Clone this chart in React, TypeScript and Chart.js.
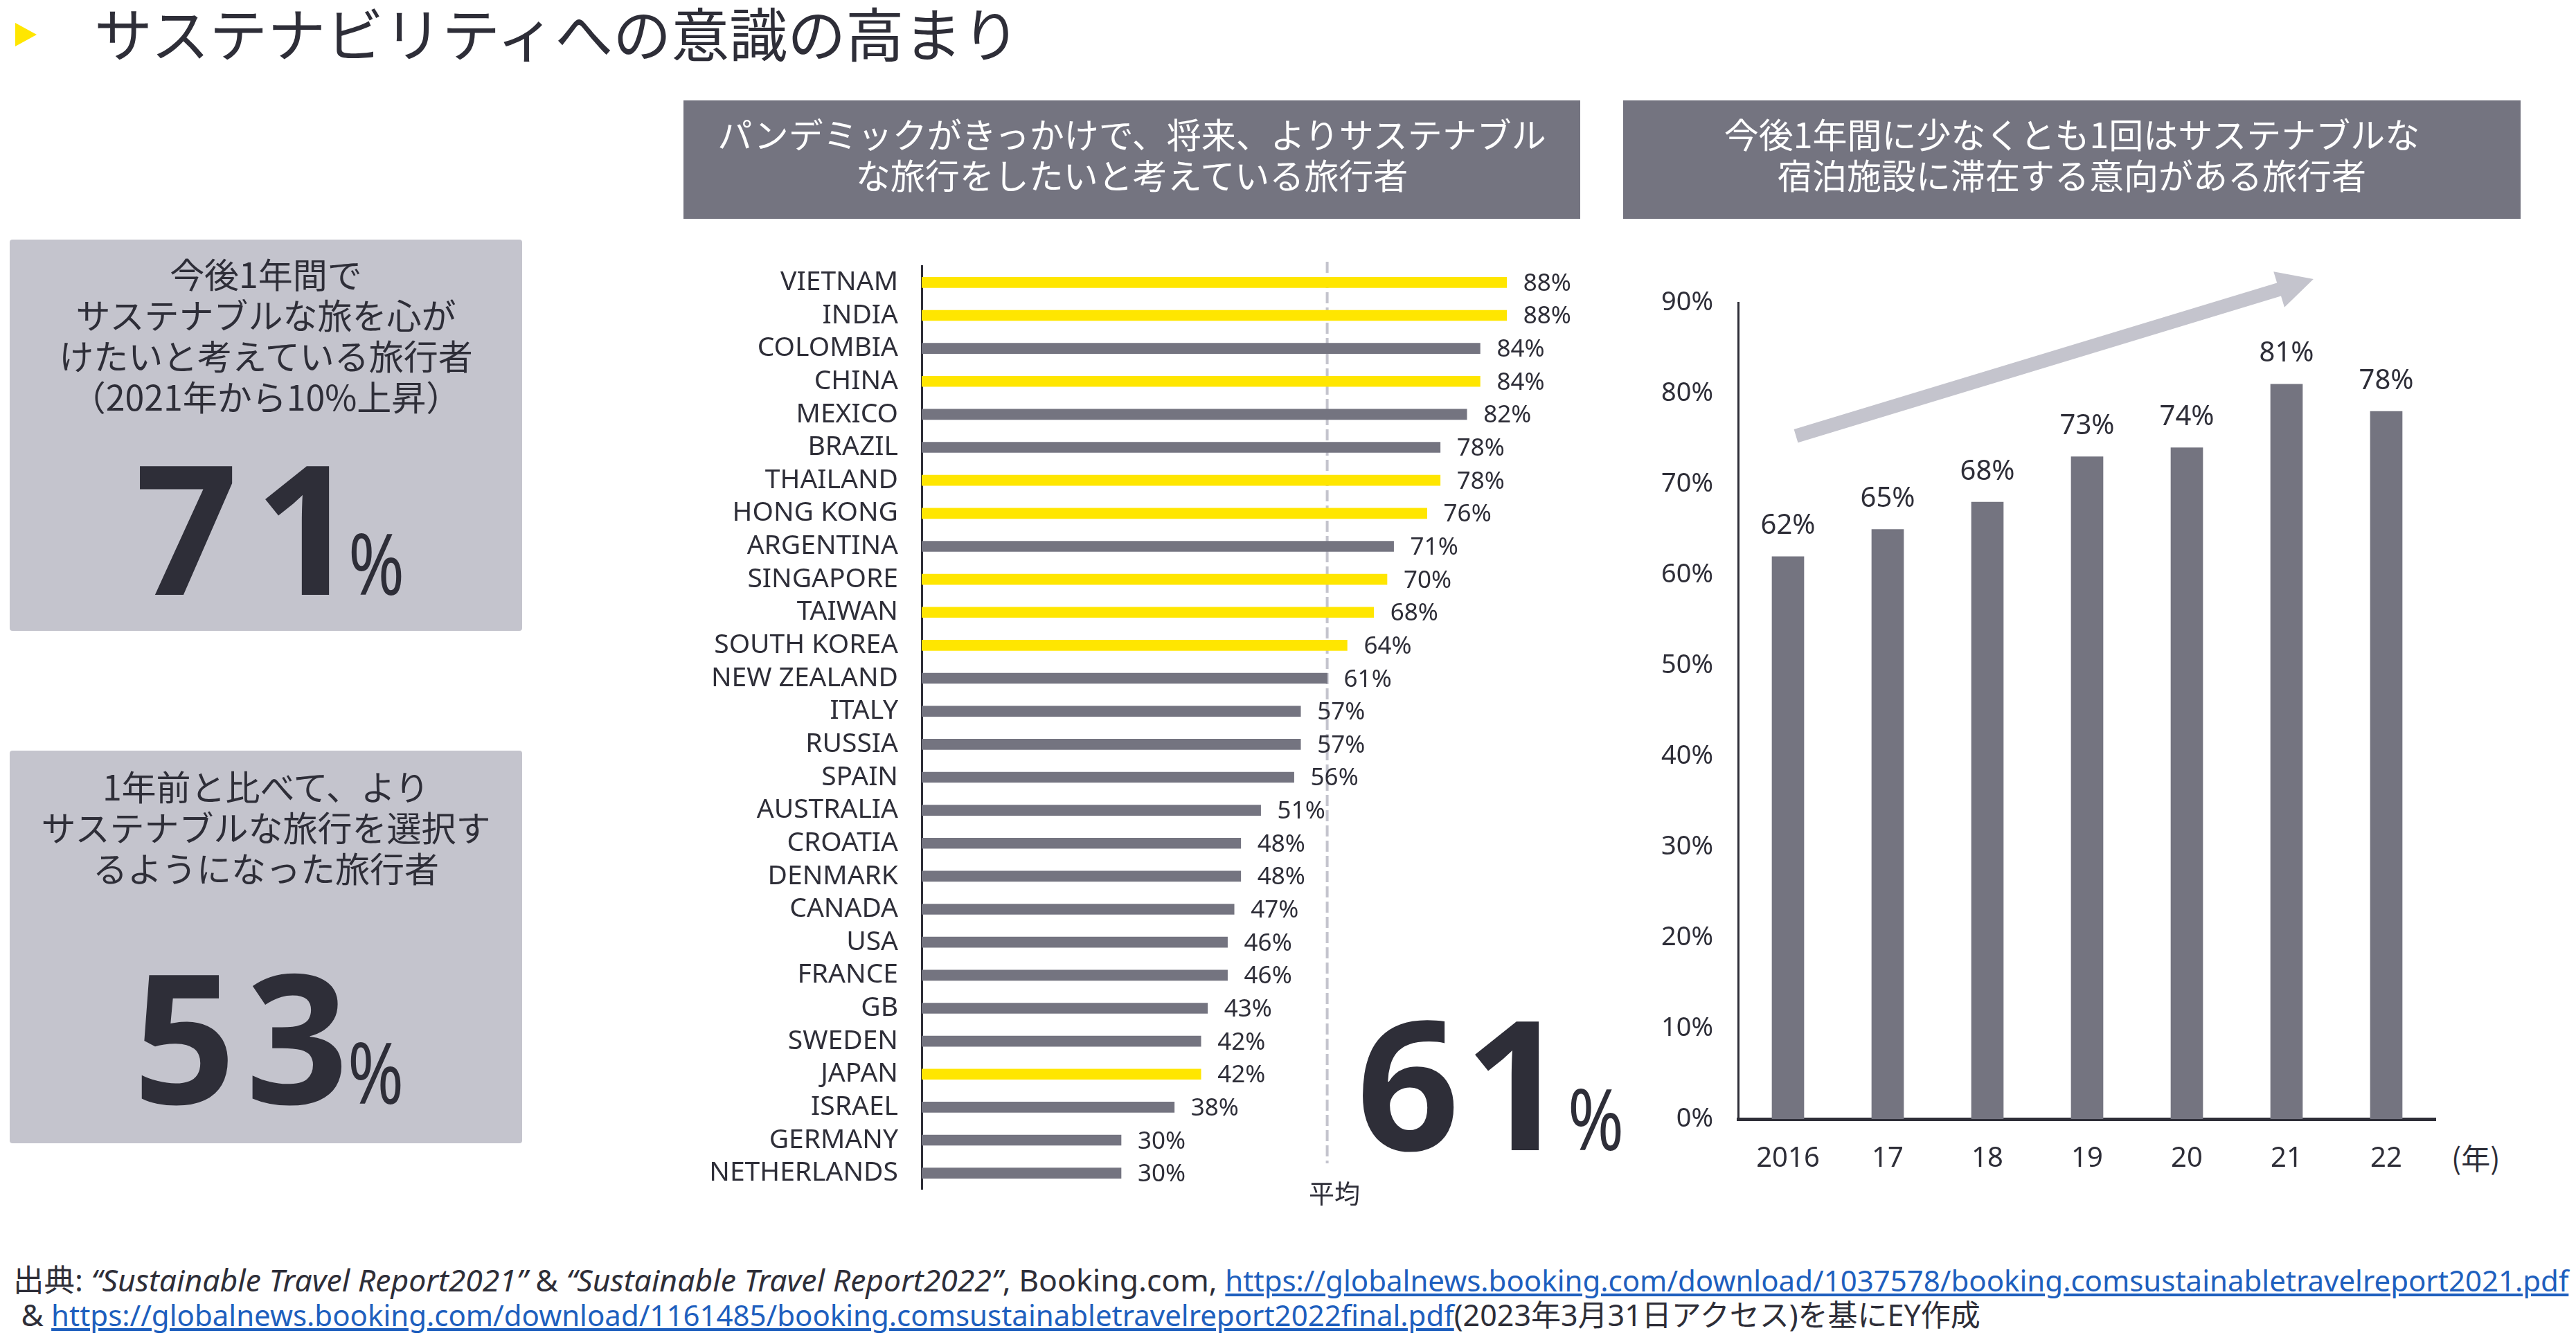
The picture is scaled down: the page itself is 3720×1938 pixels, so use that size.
import React, { useEffect, useRef } from 'react';
import { Chart, registerables } from 'chart.js';

Chart.register(...registerables);

// ---- data ----
const countries = [
  'VIETNAM', 'INDIA', 'COLOMBIA', 'CHINA', 'MEXICO', 'BRAZIL', 'THAILAND', 'HONG KONG',
  'ARGENTINA', 'SINGAPORE', 'TAIWAN', 'SOUTH KOREA', 'NEW ZEALAND', 'ITALY', 'RUSSIA',
  'SPAIN', 'AUSTRALIA', 'CROATIA', 'DENMARK', 'CANADA', 'USA', 'FRANCE', 'GB', 'SWEDEN',
  'JAPAN', 'ISRAEL', 'GERMANY', 'NETHERLANDS',
];
const countryValues = [88, 88, 84, 84, 82, 78, 78, 76, 71, 70, 68, 64, 61, 57, 57, 56, 51, 48, 48, 47, 46, 46, 43, 42, 42, 38, 30, 30];
const highlightedCountries = ['VIETNAM', 'INDIA', 'CHINA', 'THAILAND', 'HONG KONG', 'SINGAPORE', 'TAIWAN', 'SOUTH KOREA', 'JAPAN'];
const averageValue = 61;

const years = ['2016', '17', '18', '19', '20', '21', '22'];
const yearValues = [62, 65, 68, 73, 74, 81, 78];
const trendArrowFrom = [0.08, 75.3];
const trendArrowTo = [5.27, 92.6];

// ---- styles ----
const DARK = '#2e2e38';
const GRAY = '#747480';
const YELLOW = '#ffe600';
const LIGHT = '#c4c4cd';
const LINK = '#1e5fbe';
const LATIN = "'Noto Sans', 'Noto Sans CJK JP', sans-serif";
const JP = "'Noto Sans CJK JP', 'Noto Sans', sans-serif";

function CountryChart() {
  const ref = useRef<HTMLCanvasElement>(null);
  useEffect(() => {
    const avgPlugin = {
      id: 'avgLine',
      beforeDatasetsDraw(chart: any) {
        const { ctx, chartArea, scales } = chart;
        const x = scales.x.getPixelForValue(averageValue);
        ctx.save();
        ctx.strokeStyle = LIGHT;
        ctx.lineWidth = 4;
        ctx.setLineDash([16, 6]);
        ctx.beginPath();
        ctx.moveTo(x, chartArea.top - 6);
        ctx.lineTo(x, chartArea.bottom - 38);
        ctx.stroke();
        ctx.restore();
      },
    };
    const labelPlugin = {
      id: 'barLabels',
      afterDatasetsDraw(chart: any) {
        const { ctx } = chart;
        const meta = chart.getDatasetMeta(0);
        ctx.save();
        ctx.fillStyle = DARK;
        ctx.font = `35px ${LATIN}`;
        ctx.textAlign = 'left';
        ctx.textBaseline = 'middle';
        meta.data.forEach((el: any, i: number) => {
          ctx.fillText(countryValues[i] + '%', el.x + 24, el.y + 2);
        });
        ctx.restore();
      },
    };
    const chart = new Chart(ref.current as HTMLCanvasElement, {
      type: 'bar',
      data: {
        labels: countries,
        datasets: [
          {
            data: countryValues,
            backgroundColor: countries.map((c) => (highlightedCountries.includes(c) ? YELLOW : GRAY)),
            barThickness: 15,
          },
        ],
      },
      options: {
        indexAxis: 'y',
        animation: false,
        responsive: false,
        devicePixelRatio: 1,
        layout: { padding: { top: 10, left: 0, right: 0, bottom: 0 } },
        plugins: { legend: { display: false }, tooltip: { enabled: false } },
        scales: {
          x: { display: false, min: 0, max: 100 },
          y: {
            grid: { display: false, drawTicks: false },
            border: { display: true, color: DARK, width: 3 },
            ticks: { color: DARK, font: { size: 39, family: LATIN }, padding: 34, autoSkip: false },
            afterFit: (s: any) => {
              s.width = 331;
              s.paddingTop = 0;
              s.paddingBottom = 0;
            },
          },
        },
      },
      plugins: [avgPlugin, labelPlugin],
    } as any);
    return () => chart.destroy();
  }, []);
  return (
    <canvas
      ref={ref}
      width={1291}
      height={1344}
      style={{ position: 'absolute', left: 1000, top: 374, width: 1291, height: 1344 }}
    />
  );
}

function YearChart() {
  const ref = useRef<HTMLCanvasElement>(null);
  useEffect(() => {
    const arrowPlugin = {
      id: 'trendArrow',
      beforeDatasetsDraw(chart: any) {
        const { ctx, scales } = chart;
        const x0 = scales.x.getPixelForValue(trendArrowFrom[0]);
        const y0 = scales.y.getPixelForValue(trendArrowFrom[1]);
        const x1 = scales.x.getPixelForValue(trendArrowTo[0]);
        const y1 = scales.y.getPixelForValue(trendArrowTo[1]);
        const dx = x1 - x0;
        const dy = y1 - y0;
        const len = Math.hypot(dx, dy);
        const ux = dx / len;
        const uy = dy / len;
        const nx = -uy;
        const ny = ux;
        const shaft = 20;
        const headLen = 52;
        const headW = 54;
        const bx = x1 - ux * headLen;
        const by = y1 - uy * headLen;
        ctx.save();
        ctx.fillStyle = LIGHT;
        ctx.beginPath();
        ctx.moveTo(x0 + (nx * shaft) / 2, y0 + (ny * shaft) / 2);
        ctx.lineTo(bx + (nx * shaft) / 2, by + (ny * shaft) / 2);
        ctx.lineTo(bx + (nx * headW) / 2, by + (ny * headW) / 2);
        ctx.lineTo(x1, y1);
        ctx.lineTo(bx - (nx * headW) / 2, by - (ny * headW) / 2);
        ctx.lineTo(bx - (nx * shaft) / 2, by - (ny * shaft) / 2);
        ctx.lineTo(x0 - (nx * shaft) / 2, y0 - (ny * shaft) / 2);
        ctx.closePath();
        ctx.fill();
        ctx.restore();
      },
    };
    const labelPlugin = {
      id: 'yearLabels',
      afterDatasetsDraw(chart: any) {
        const { ctx } = chart;
        const meta = chart.getDatasetMeta(0);
        ctx.save();
        ctx.fillStyle = DARK;
        ctx.font = `40px ${LATIN}`;
        ctx.textAlign = 'center';
        ctx.textBaseline = 'middle';
        meta.data.forEach((el: any, i: number) => {
          ctx.fillText(yearValues[i] + '%', el.x, el.y - 44);
        });
        ctx.restore();
      },
    };
    const chart = new Chart(ref.current as HTMLCanvasElement, {
      type: 'bar',
      data: {
        labels: years,
        datasets: [{ data: yearValues, backgroundColor: GRAY, barThickness: 46 }],
      },
      options: {
        animation: false,
        responsive: false,
        devicePixelRatio: 1,
        layout: { padding: { top: 60, left: 0, right: 0, bottom: 0 } },
        plugins: { legend: { display: false }, tooltip: { enabled: false } },
        scales: {
          x: {
            grid: { display: false, drawTicks: false },
            border: { display: true, color: DARK, width: 5 },
            ticks: { color: DARK, font: { size: 40, family: LATIN }, padding: 34 },
            afterFit: (s: any) => {
              s.height = 100;
            },
          },
          y: {
            min: 0,
            max: 90,
            grid: { display: false, drawTicks: false },
            border: { display: true, color: DARK, width: 3 },
            ticks: {
              stepSize: 10,
              color: DARK,
              font: { size: 38, family: LATIN },
              padding: 36,
              callback: (v: any) => v + '%',
            },
            afterFit: (s: any) => {
              s.width = 170;
            },
          },
        },
      },
      plugins: [arrowPlugin, labelPlugin],
    } as any);
    return () => chart.destroy();
  }, []);
  return (
    <canvas
      ref={ref}
      width={1178}
      height={1339}
      style={{ position: 'absolute', left: 2340, top: 377, width: 1178, height: 1339 }}
    />
  );
}

const abs = (s: React.CSSProperties): React.CSSProperties => ({ position: 'absolute', ...s });

function BigNumber(props: { left: number; top: number; first: string; rest: string; spacing: number; gap: number }) {
  return (
    <div
      style={abs({
        left: props.left,
        top: props.top,
        fontFamily: LATIN,
        fontSize: 260,
        lineHeight: '260px',
        whiteSpace: 'nowrap',
        color: DARK,
      })}
    >
      <span style={{ fontWeight: 700, letterSpacing: props.spacing }}>{props.first}</span>
      <span style={{ fontWeight: 700 }}>{props.rest}</span>
      <span
        style={{
          display: 'inline-block',
          fontSize: 122,
          marginLeft: props.gap,
          transform: 'scaleX(0.8)',
          transformOrigin: 'left bottom',
        }}
      >
        %
      </span>
    </div>
  );
}

export default function App() {
  return (
    <div
      style={{
        position: 'absolute',
        left: 0,
        top: 0,
        width: 3720,
        height: 1938,
        overflow: 'hidden',
        background: '#ffffff',
        color: DARK,
        fontFamily: JP,
      }}
    >
      {/* title */}
      <div
        style={abs({
          left: 22,
          top: 33,
          width: 0,
          height: 0,
          borderTop: '17px solid transparent',
          borderBottom: '17px solid transparent',
          borderLeft: `31px solid ${YELLOW}`,
        })}
      />
      <div style={abs({ left: 136, top: -4, fontSize: 84, lineHeight: '100px', whiteSpace: 'nowrap' })}>
        サステナビリティへの意識の高まり
      </div>

      {/* left box 1 */}
      <div style={abs({ left: 14, top: 346, width: 740, height: 565, background: LIGHT, borderRadius: 4 })} />
      <div style={abs({ left: 14, top: 365, width: 740, fontSize: 50, lineHeight: '59px', textAlign: 'center' })}>
        今後1年間で
        <br />
        サステナブルな旅を心が
        <br />
        けたいと考えている旅行者
        <br />
        （2021年から10%上昇）
      </div>
      <BigNumber left={195} top={628} first="7" rest="1" spacing={24} gap={-13} />

      {/* left box 2 */}
      <div style={abs({ left: 14, top: 1084, width: 740, height: 567, background: LIGHT, borderRadius: 4 })} />
      <div style={abs({ left: 14, top: 1105, width: 740, fontSize: 50, lineHeight: '59px', textAlign: 'center' })}>
        1年前と比べて、より
        <br />
        サステナブルな旅行を選択す
        <br />
        るようになった旅行者
      </div>
      <BigNumber left={192} top={1363} first="5" rest="3" spacing={14} gap={-1} />

      {/* header boxes */}
      <div style={abs({ left: 987, top: 145, width: 1295, height: 171, background: GRAY })} />
      <div
        style={abs({ left: 987, top: 163, width: 1295, fontSize: 50, lineHeight: '59px', textAlign: 'center', color: '#ffffff' })}
      >
        パンデミックがきっかけで、将来、よりサステナブル
        <br />
        な旅行をしたいと考えている旅行者
      </div>
      <div style={abs({ left: 2344, top: 145, width: 1296, height: 171, background: GRAY })} />
      <div
        style={abs({ left: 2344, top: 163, width: 1296, fontSize: 50, lineHeight: '59px', textAlign: 'center', color: '#ffffff' })}
      >
        今後1年間に少なくとも1回はサステナブルな
        <br />
        宿泊施設に滞在する意向がある旅行者
      </div>

      <CountryChart />
      <YearChart />

      {/* average annotation */}
      <BigNumber left={1959} top={1430} first="6" rest="1" spacing={7} gap={1} />
      <div style={abs({ left: 1890, top: 1700, fontSize: 37, lineHeight: '44px', whiteSpace: 'nowrap' })}>平均</div>

      <div style={abs({ left: 3540, top: 1646, fontSize: 42, lineHeight: '50px', whiteSpace: 'nowrap' })}>(年)</div>

      {/* footer */}
      <div style={abs({ left: 19, top: 1823, height: 50, lineHeight: '50px', whiteSpace: 'nowrap', fontFamily: LATIN })}>
        <span style={{ fontSize: 44.5 }}>
          出典: <i>“Sustainable Travel Report2021”</i> &amp; <i>“Sustainable Travel Report2022”</i>, Booking.com,{' '}
        </span>
        <span style={{ fontSize: 42, color: LINK, textDecoration: 'underline' }}>
          https://globalnews.booking.com/download/1037578/booking.comsustainabletravelreport2021.pdf
        </span>
      </div>
      <div style={abs({ left: 19, top: 1873, height: 50, lineHeight: '50px', whiteSpace: 'nowrap', fontFamily: LATIN })}>
        <span style={{ fontSize: 44 }}>&nbsp;&amp; </span>
        <span style={{ fontSize: 42, color: LINK, textDecoration: 'underline' }}>
          https://globalnews.booking.com/download/1161485/booking.comsustainabletravelreport2022final.pdf
        </span>
        <span style={{ fontSize: 43 }}>(2023年3月31日アクセス)を基にEY作成</span>
      </div>
    </div>
  );
}
